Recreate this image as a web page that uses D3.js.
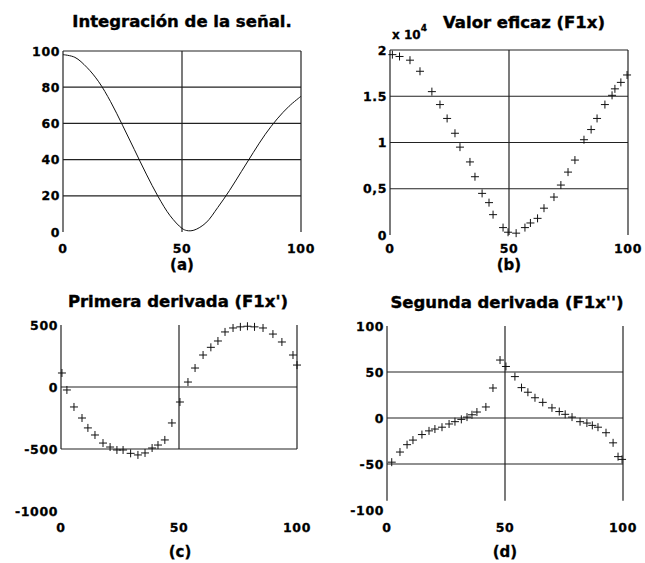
<!DOCTYPE html>
<html><head><meta charset="utf-8">
<script src="https://cdn.jsdelivr.net/npm/d3@7"></script>
<style>
body{margin:0;background:#fff;}
text{font-family:"DejaVu Sans",sans-serif;font-weight:bold;fill:#000;}
</style></head>
<body>
<svg id="chart" width="645" height="563"></svg>
<script>
// ---- data ----
const aX = [0,5,10,15,20,25,30,35,40,45,50,52,55,60,65,70,75,80,85,90,95,100];
const aY = [98,96.5,91,83,72,59,45.5,32,19.5,9,2,0.8,1,5,13.5,23,33.5,44,54,62.5,69.5,75];

const bX = [1,4,8.4,12.6,17.6,21,24,27.3,29.4,33.6,35.7,38.7,41.6,43.3,47.5,49.6,53,56.7,59,62,64.7,68.9,71.8,74.8,77.7,81.5,84.5,87,90.3,93.3,94.5,97,99.6];
const bY = [1.95,1.93,1.89,1.77,1.55,1.41,1.26,1.10,0.95,0.79,0.63,0.45,0.35,0.22,0.08,0.03,0.02,0.08,0.13,0.18,0.29,0.41,0.54,0.68,0.81,1.03,1.14,1.26,1.41,1.51,1.58,1.65,1.73];

const cX = [0.4,2.5,5.5,8.9,11.4,14.4,17.8,20.8,23.7,26.3,29.5,32.6,35.6,38.6,41.1,44,47,50.4,53.8,56.8,60.2,63.5,66.5,69.5,72.9,76,79,82,85.6,89.8,93.6,98.3,100];
const cY = [113,-24,-161,-250,-330,-387,-452,-484,-508,-508,-535,-548,-532,-492,-468,-427,-290,-121,40,153,258,320,371,444,476,485,490,485,476,427,363,258,177];

const dX = [2,5.5,8.5,11,14.8,17.8,20.3,23.3,26.3,28.8,31.5,33.9,36,38.1,41.9,44.9,47.9,50.4,54.2,57,59.7,62.7,66,69.9,73,75.5,78.4,81.8,84.7,87,89.4,92.8,95.8,97.9,99.6];
const dY = [-48,-37,-29,-24,-18,-14,-12,-10,-6.5,-4,-1.5,1,3.5,6.5,12,32.6,63,56,45,33,28,22,17,11,7,4,1,-4,-5.5,-8,-10,-16,-27,-42,-45];

const xTicks = [0,50,100];
const aTicks = [0,20,40,60,80,100];
const bTicks = [0,0.5,1,1.5,2];
const bTickLabels = ["0","0,5","1","1.5","2"];
const cTicks = [-1000,-500,0,500];
const dTicks = [-100,-50,0,50,100];

const titles = ["Integración de la señal.","Valor eficaz (F1x)","Primera derivada (F1x')","Segunda derivada (F1x'')"];
const subLabels = ["(a)","(b)","(c)","(d)"];

// ---- layout ----
const svg = d3.select("#chart");
const panels = [
  {xr:[63,301], yd:[0,100], yr:[232,51], ticks:aTicks, labels:aTicks.map(String),
   hgrid:[20,40,60,80,100], vspan:[0,100], xlab:253, sub:[182,270], title:[182,27], xs:aX, ys:aY, line:true},
  {xr:[390,628], yd:[0,2], yr:[235,50], ticks:bTicks, labels:bTickLabels,
   hgrid:[0.5,1,1.5,2], vspan:[0,2], xlab:253, sub:[509,270], title:[524,28], xs:bX, ys:bY, line:false},
  {xr:[61,297], yd:[-1000,500], yr:[511,325], ticks:cTicks, labels:cTicks.map(String),
   hgrid:[-500,0], vspan:[-500,500], xlab:532, sub:[180,557], title:[178,307], xs:cX, ys:cY, line:false},
  {xr:[387,623], yd:[-100,100], yr:[510,326], ticks:dTicks, labels:dTicks.map(String),
   hgrid:[-50,0,50], vspan:[-90,100], xlab:532, sub:[505,557], title:[507,308], xs:dX, ys:dY, line:false}
];

panels.forEach((p,i)=>{
  const x = d3.scaleLinear().domain([0,100]).range(p.xr);
  const y = d3.scaleLinear().domain(p.yd).range(p.yr);
  const g = svg.append("g");
  g.selectAll("line.h").data(p.hgrid).enter().append("line")
    .attr("x1",x(0)).attr("x2",x(100)).attr("y1",d=>y(d)).attr("y2",d=>y(d))
    .attr("stroke","#222").attr("stroke-width",1.2);
  g.selectAll("line.v").data(xTicks).enter().append("line")
    .attr("x1",d=>x(d)).attr("x2",d=>x(d)).attr("y1",y(p.vspan[0])).attr("y2",y(p.vspan[1]))
    .attr("stroke","#222").attr("stroke-width",1.2);
  g.selectAll("text.yt").data(p.ticks).enter().append("text")
    .attr("x",x(0)-3).attr("y",d=>y(d)).attr("dy","0.36em")
    .attr("text-anchor","end").attr("font-size",12.5).attr("letter-spacing",0.6)
    .attr("stroke","#000").attr("stroke-width",0.3)
    .text((d,j)=>p.labels[j]);
  g.selectAll("text.xt").data(xTicks).enter().append("text")
    .attr("x",d=>x(d)).attr("y",p.xlab)
    .attr("text-anchor","middle").attr("font-size",12.5).attr("letter-spacing",0.6)
    .attr("stroke","#000").attr("stroke-width",0.3)
    .text(d=>d);
  g.append("text").attr("x",p.title[0]).attr("y",p.title[1]).attr("text-anchor","middle")
    .attr("font-size",16.5).attr("stroke","#000").attr("stroke-width",0.4).text(titles[i]);
  g.append("text").attr("x",p.sub[0]).attr("y",p.sub[1]).attr("text-anchor","middle")
    .attr("font-size",15).attr("stroke","#000").attr("stroke-width",0.3).text(subLabels[i]);
  const pts = p.xs.map((v,k)=>[v,p.ys[k]]);
  if(p.line){
    g.append("path").datum(pts)
      .attr("d",d3.line().x(d=>x(d[0])).y(d=>y(d[1])).curve(d3.curveCatmullRom))
      .attr("fill","none").attr("stroke","#111").attr("stroke-width",1);
  } else {
    const m = 4;
    const mk = g.selectAll("g.m").data(pts).enter().append("g")
      .attr("transform",d=>`translate(${x(d[0])},${y(d[1])})`);
    mk.append("line").attr("x1",-m).attr("x2",m).attr("stroke","#111").attr("stroke-width",1);
    mk.append("line").attr("y1",-m).attr("y2",m).attr("stroke","#111").attr("stroke-width",1);
  }
});
const ex = svg.append("text").attr("x",392).attr("y",39).attr("font-size",12)
  .attr("stroke","#000").attr("stroke-width",0.3);
ex.append("tspan").text("x 10");
ex.append("tspan").attr("font-size",9).attr("dy",-8).text("4");
</script>
</body></html>
